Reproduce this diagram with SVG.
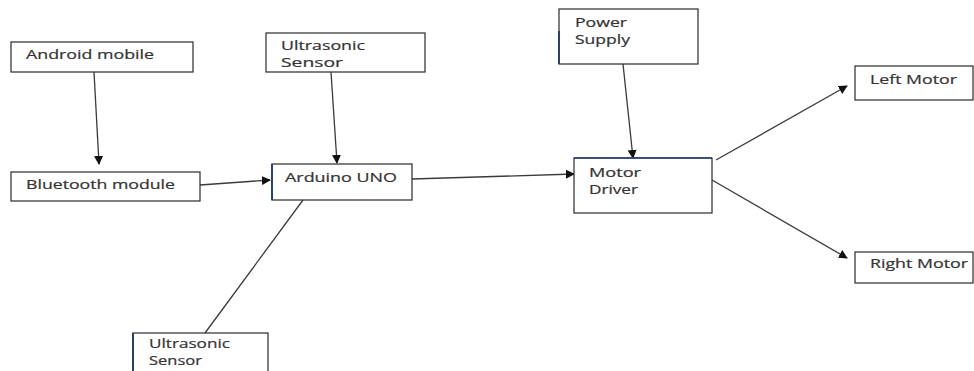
<svg xmlns="http://www.w3.org/2000/svg" width="974" height="371" viewBox="0 0 974 371">
<style>
.box{fill:#fff;stroke:#2a2a2a;stroke-width:1.2}
.edge{stroke:#2f3f6e;stroke-width:2;fill:none}
.t{font-family:"Open Sans","Liberation Sans",sans-serif;font-size:12.5px;fill:#333;stroke:#333;stroke-width:0.2}
.c{stroke:#3a3a3a;stroke-width:1.3;fill:none}
</style>
<defs>
<marker id="ah" viewBox="0 0 10 10" refX="9" refY="5" markerWidth="9" markerHeight="9" markerUnits="userSpaceOnUse" orient="auto">
<path d="M0,0 L10,5 L0,10 z" fill="#111"/>
</marker>
</defs>
<rect width="974" height="371" fill="#fff"/>
<g id="connectors">
<line class="c" x1="94" y1="72" x2="99" y2="164" marker-end="url(#ah)"/>
<line class="c" x1="200" y1="185" x2="270" y2="180" marker-end="url(#ah)"/>
<line class="c" x1="331" y1="72" x2="337" y2="163" marker-end="url(#ah)"/>
<line class="c" x1="412" y1="179" x2="574" y2="174" marker-end="url(#ah)"/>
<line class="c" x1="623" y1="64" x2="633" y2="158" marker-end="url(#ah)"/>
<line class="c" x1="716" y1="160" x2="847" y2="86" marker-end="url(#ah)"/>
<line class="c" x1="712" y1="180" x2="847" y2="258" marker-end="url(#ah)"/>
<line class="c" x1="303" y1="200" x2="205" y2="333"/>
</g>
<g id="android">
<rect class="box" x="11" y="42" width="182" height="30"/>
<text class="t" x="26" y="59" textLength="128" lengthAdjust="spacingAndGlyphs">Android mobile</text>
</g>
<g id="bluetooth">
<rect class="box" x="11" y="172" width="189" height="29"/>
<text class="t" x="26" y="189" textLength="149" lengthAdjust="spacingAndGlyphs">Bluetooth module</text>
</g>
<g id="ultrasonic-top">
<rect class="box" x="266" y="33" width="159" height="39"/>
<text class="t" x="281" y="50" textLength="84" lengthAdjust="spacingAndGlyphs">Ultrasonic</text>
<text class="t" x="281" y="67" textLength="62" lengthAdjust="spacingAndGlyphs">Sensor</text>
</g>
<g id="arduino">
<rect class="box" x="272" y="164" width="140" height="36"/>
<line class="edge" x1="272" y1="164" x2="272" y2="200"/>
<text class="t" x="285" y="182" textLength="112" lengthAdjust="spacingAndGlyphs">Arduino UNO</text>
</g>
<g id="power">
<rect class="box" x="559" y="9" width="139" height="55"/>
<line class="edge" x1="559" y1="31" x2="559" y2="64"/>
<text class="t" x="575" y="27" textLength="52" lengthAdjust="spacingAndGlyphs">Power</text>
<text class="t" x="575" y="44" textLength="55" lengthAdjust="spacingAndGlyphs">Supply</text>
</g>
<g id="motor-driver">
<rect class="box" x="574" y="158" width="138" height="55"/>
<line class="edge" x1="574" y1="158" x2="712" y2="158" style="stroke-width:1.4"/>
<text class="t" x="589" y="177" textLength="52" lengthAdjust="spacingAndGlyphs">Motor</text>
<text class="t" x="589" y="194" textLength="49" lengthAdjust="spacingAndGlyphs">Driver</text>
</g>
<g id="left-motor">
<rect class="box" x="855" y="66" width="118" height="34"/>
<text class="t" x="870" y="84" textLength="87" lengthAdjust="spacingAndGlyphs">Left Motor</text>
</g>
<g id="right-motor">
<rect class="box" x="855" y="252" width="118" height="31"/>
<text class="t" x="870" y="268" textLength="98" lengthAdjust="spacingAndGlyphs">Right Motor</text>
</g>
<g id="ultrasonic-bottom">
<rect class="box" x="133" y="333" width="135" height="45"/>
<line class="edge" x1="133" y1="333" x2="133" y2="371"/>
<text class="t" x="149" y="348" textLength="81" lengthAdjust="spacingAndGlyphs">Ultrasonic</text>
<text class="t" x="149" y="365" textLength="53" lengthAdjust="spacingAndGlyphs">Sensor</text>
</g>
</svg>
